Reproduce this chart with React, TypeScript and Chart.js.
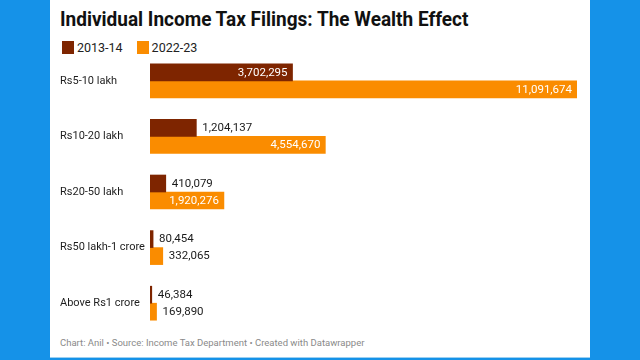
import React, { useEffect, useRef } from "react";
import { Chart, registerables } from "chart.js";

Chart.register(...registerables);

const categories = ["Rs5-10 lakh", "Rs10-20 lakh", "Rs20-50 lakh", "Rs50 lakh-1 crore", "Above Rs1 crore"];
const filings2013 = [3702295, 1204137, 410079, 80454, 46384];
const filings2022 = [11091674, 4554670, 1920276, 332065, 169890];
const seriesNames = ["2013-14", "2022-23"];

const COLORS = ["#7e2500", "#fa8c00"];
const FONT = "Roboto, 'Noto Sans', sans-serif";

const valueLabels = {
  id: "valueLabels",
  afterDatasetsDraw(chart: any) {
    const ctx = chart.ctx;
    ctx.save();
    ctx.font = `11.5px ${FONT}`;
    ctx.textBaseline = "middle";
    chart.data.datasets.forEach((ds: any, di: number) => {
      const meta = chart.getDatasetMeta(di);
      meta.data.forEach((bar: any, i: number) => {
        const v = ds.data[i] as number;
        const txt = v.toLocaleString("en-US");
        const w = ctx.measureText(txt).width;
        const barW = bar.x - bar.base;
        if (barW > w + 14) {
          ctx.fillStyle = "#ffffff";
          ctx.textAlign = "right";
          ctx.fillText(txt, bar.x - 5, bar.y + 0.5);
        } else {
          ctx.fillStyle = "#1a1a1a";
          ctx.textAlign = "left";
          ctx.fillText(txt, bar.x + 6, bar.y + 0.5);
        }
      });
    });
    ctx.restore();
  },
};

export default function App() {
  const ref = useRef<HTMLCanvasElement>(null);

  useEffect(() => {
    if (!ref.current) return;
    const chart = new Chart(ref.current, {
      type: "bar",
      data: {
        labels: categories,
        datasets: [
          { label: seriesNames[0], data: filings2013, backgroundColor: COLORS[0], barThickness: 17 },
          { label: seriesNames[1], data: filings2022, backgroundColor: COLORS[1], barThickness: 17 },
        ],
      },
      options: {
        indexAxis: "y",
        responsive: false,
        animation: false,
        layout: { padding: { left: 10, right: 13, top: 0, bottom: 0 } },
        plugins: { legend: { display: false }, tooltip: { enabled: false } },
        scales: {
          x: { display: false, min: 0, max: 11091674 },
          y: {
            grid: { display: false },
            border: { display: false },
            afterFit(scale: any) {
              scale.width = 90;
              scale.paddingTop = 0;
              scale.paddingBottom = 0;
            },
            ticks: {
              crossAlign: "far",
              color: "#1e1e1e",
              font: { family: FONT, size: 11 },
            },
          },
        },
      },
      plugins: [valueLabels],
    } as any);
    return () => chart.destroy();
  }, []);

  return (
    <div style={{ position: "fixed", left: 0, top: 0, width: 640, height: 360, background: "#1592e8", overflow: "hidden" }}>
      <div style={{ position: "absolute", left: 50, top: 0, width: 540, height: 357, background: "#ffffff", borderBottom: "1px solid #9cd0f2" }}>
        <div
          style={{
            position: "absolute",
            left: 10,
            top: 6,
            fontFamily: FONT,
            fontWeight: 700,
            fontSize: 20,
            color: "#111",
            whiteSpace: "nowrap",
            transform: "scaleX(0.95)",
            transformOrigin: "left top",
            lineHeight: "26px",
          }}
        >
          Individual Income Tax Filings: The Wealth Effect
        </div>
        <div style={{ position: "absolute", left: 12, top: 40, display: "flex", alignItems: "center", fontFamily: FONT, fontSize: 12.5, color: "#222" }}>
          {seriesNames.map((n, i) => (
            <div key={n} style={{ display: "flex", alignItems: "center", marginRight: 14 }}>
              <div style={{ width: 12, height: 13, background: COLORS[i], marginRight: 3 }} />
              <span>{n}</span>
            </div>
          ))}
        </div>
        <canvas ref={ref} width={540} height={278} style={{ position: "absolute", left: 0, top: 53, width: 540, height: 278 }} />
        <div style={{ position: "absolute", left: 10, top: 337, fontFamily: FONT, fontSize: 9.5, color: "#8a8a8a", whiteSpace: "nowrap" }}>
          Chart: Anil • Source: Income Tax Department • Created with Datawrapper
        </div>
      </div>
    </div>
  );
}
